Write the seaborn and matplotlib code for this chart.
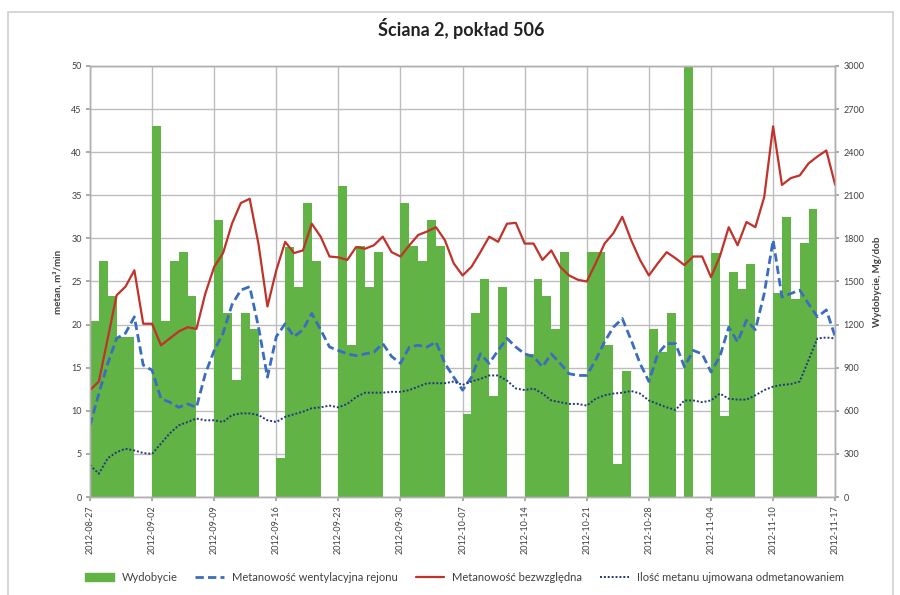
import numpy as np
import matplotlib
matplotlib.use('Agg')
import matplotlib.pyplot as plt
import matplotlib.patches as mpatches
from matplotlib.lines import Line2D
import seaborn as sns

# tick labels (one every 7 days)
tick_labels = ['2012-08-27', '2012-09-02', '2012-09-09', '2012-09-16', '2012-09-23',
               '2012-09-30', '2012-10-07', '2012-10-14', '2012-10-21', '2012-10-28',
               '2012-11-04', '2012-11-10', '2012-11-17']

# daily output, Mg/dob (right axis)
wydobycie = [1225, 1645, 1400, 1115, 1115, 0, 0,
             2580, 1225, 1645, 1705, 1400, 0, 0,
             1930, 1280, 815, 1280, 1170, 0, 0,
             270, 1740, 1465, 2045, 1645, 0, 0,
             2165, 1055, 1750, 1465, 1705, 0, 0,
             2045, 1750, 1640, 1930, 1750, 0, 0,
             575, 1280, 1520, 700, 1465, 0, 0,
             995, 1520, 1400, 1170, 1705, 0, 0,
             1705, 1705, 1055, 230, 875, 0, 0,
             1170, 1010, 1280, 0, 3000, 0, 0,
             1695, 565, 1565, 1445, 1625, 0, 0,
             1420, 1950, 1380, 1765, 2005, 0, 0]

# methane, m3/min (left axis)
met_went = [8.3, 12.0, 15.5, 18.4, 19.0, 20.9, 15.3, 14.7, 11.4, 11.0,
            10.4, 10.8, 10.4, 14.3, 17.0, 19.0, 22.3, 24.0, 24.4, 19.7,
            13.9, 18.6, 20.1, 18.6, 19.4, 21.3, 19.4, 17.4, 17.0, 16.6,
            16.4, 16.6, 16.8, 17.8, 16.3, 15.5, 17.4, 17.6, 17.4, 18.0,
            15.5, 13.9, 12.4, 13.9, 16.6, 15.5, 17.0, 18.4, 17.4, 16.6,
            16.3, 15.1, 16.6, 15.5, 14.3, 14.1, 14.1, 15.9, 18.0, 19.7,
            20.7, 18.2, 15.5, 13.4, 16.6, 17.8, 17.8, 15.1, 17.0, 16.6,
            14.5, 16.3, 19.7, 18.0, 20.5, 19.4, 23.6, 29.8, 23.2, 23.6,
            24.0, 22.4, 20.9, 21.7, 18.6]

met_bezw = [12.4, 13.4, 18.4, 23.4, 24.4, 26.3, 20.1, 20.1, 17.6, 18.4,
            19.2, 19.7, 19.5, 23.6, 26.7, 28.3, 31.7, 34.1, 34.6, 29.3,
            22.1, 26.3, 29.6, 28.3, 28.6, 31.7, 30.2, 27.9, 27.8, 27.5,
            29.0, 28.8, 29.2, 30.2, 28.4, 27.9, 29.2, 30.4, 30.8, 31.3,
            29.8, 27.1, 25.7, 26.7, 28.4, 30.2, 29.6, 31.7, 31.8, 29.4,
            29.4, 27.5, 28.6, 26.7, 25.7, 25.2, 25.0, 27.1, 29.4, 30.6,
            32.5, 29.8, 27.5, 25.7, 27.1, 28.4, 27.7, 26.9, 27.9, 27.9,
            25.5, 27.9, 31.3, 29.2, 31.9, 31.3, 34.8, 43.0, 36.2, 37.0,
            37.3, 38.7, 39.5, 40.2, 36.2]

odmet = [3.7, 2.7, 4.5, 5.2, 5.6, 5.4, 5.1, 5.0, 6.2, 7.4,
         8.3, 8.7, 9.1, 8.9, 8.9, 8.7, 9.5, 9.7, 9.7, 9.5,
         8.9, 8.7, 9.3, 9.6, 9.9, 10.3, 10.4, 10.6, 10.4, 10.8,
         11.6, 12.1, 12.1, 12.1, 12.2, 12.2, 12.4, 12.8, 13.2, 13.2,
         13.2, 13.4, 13.0, 13.4, 13.7, 14.1, 14.1, 13.5, 12.6, 12.4,
         12.6, 12.0, 11.2, 11.0, 10.8, 10.8, 10.6, 11.4, 11.8, 12.0,
         12.1, 12.3, 12.0, 11.2, 10.8, 10.4, 10.1, 11.2, 11.2, 11.0,
         11.2, 12.0, 11.4, 11.3, 11.3, 11.8, 12.4, 12.8, 13.0, 13.1,
         13.4, 15.9, 18.4, 18.5, 18.4]

green = '#62b345'
red = '#c0322a'
blue = '#3b6cc0'
navy = '#22387a'
txt = '#404040'

sns.set_theme(style='white')
plt.rcParams['font.family'] = ['Lato', 'DejaVu Sans']

fig = plt.figure(figsize=(9, 5.95), dpi=100)
ax_bar = fig.add_axes([0.1, 0.1647, 0.828, 0.7244])
ax = ax_bar.twinx()

# bars fill each day, lines run on day boundaries
bar_x = np.arange(len(wydobycie)) + 0.5
line_x = np.arange(len(met_bezw))

sns.barplot(x=bar_x, y=wydobycie, native_scale=True, width=1, color=green,
            saturation=1, linewidth=0, ax=ax_bar)

sns.lineplot(x=line_x, y=met_went, ax=ax, color=blue, linewidth=2.0,
             linestyle=(0, (3, 1.5)))
sns.lineplot(x=line_x, y=met_bezw, ax=ax, color=red, linewidth=1.6)
sns.lineplot(x=line_x, y=odmet, ax=ax, color=navy, linewidth=1.4,
             linestyle=(0, (1, 1)))

# axes setup
ax_bar.set_xlim(0, len(wydobycie))
ax_bar.set_ylim(0, 3000)
ax_bar.set_yticks(range(0, 3001, 300))
ax.set_ylim(0, 50)
ax.set_yticks(range(0, 51, 5))

ax.yaxis.tick_left()
ax.yaxis.set_label_position('left')
ax_bar.yaxis.tick_right()
ax_bar.yaxis.set_label_position('right')

ax_bar.set_xticks(np.arange(0, len(wydobycie) + 1, 7))
ax_bar.set_xticklabels(tick_labels, rotation=90, fontsize=6.5, color=txt)
ax_bar.set_xlabel('')

ax_bar.grid(True, color='#bdbdbd', linewidth=1)
ax_bar.set_axisbelow(True)

for a in (ax_bar, ax):
    for s in a.spines.values():
        s.set_color('#b0b0b0')
        s.set_linewidth(1)
    a.tick_params(axis='y', labelsize=6.5, labelcolor=txt, length=3,
                  color='#a0a0a0', pad=3)
ax_bar.tick_params(axis='x', length=3, color='#a0a0a0', pad=3, bottom=True)

ax.set_ylabel('metan, m³/min', fontsize=7, fontweight='bold', color=txt, labelpad=6)
ax_bar.set_ylabel('Wydobycie, Mg/dob', fontsize=7, fontweight='bold', color=txt,
                  labelpad=6, rotation=90)

fig.text(0.513, 0.952, 'Ściana 2, pokład 506', ha='center', va='center',
         fontsize=13, fontweight='bold', color='#222222')

handles = [mpatches.Patch(color=green),
           Line2D([], [], color=blue, linewidth=2.0, linestyle=(0, (3, 1.5))),
           Line2D([], [], color=red, linewidth=1.6),
           Line2D([], [], color=navy, linewidth=1.4, linestyle=(0, (1, 1)))]
labels = ['Wydobycie', 'Metanowość wentylacyjna rejonu',
          'Metanowość bezwzględna', 'Ilość metanu ujmowana odmetanowaniem']
fig.legend(handles, labels, loc='center', bbox_to_anchor=(0.516, 0.029), ncol=4,
           frameon=False, fontsize=8, handlelength=2.6, handletextpad=0.7,
           columnspacing=1.6, labelcolor=txt)

# chart area border
fig.add_artist(mpatches.Rectangle((8 / 900, -0.01), 885 / 900, 1.01 - 12 / 595,
                                  transform=fig.transFigure, fill=False,
                                  edgecolor='#cfcfcf', linewidth=1.2))

fig.savefig('out.png', dpi=100)
